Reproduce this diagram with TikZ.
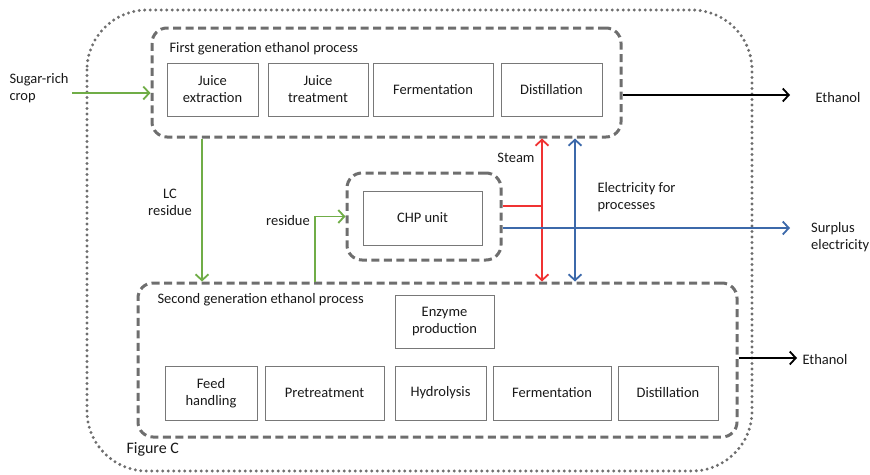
\documentclass[tikz,border=0pt]{standalone}
\usepackage{fontspec}
\setmainfont{Carlito}
\usetikzlibrary{arrows.meta}
\definecolor{leaf}{RGB}{112,173,71}
\definecolor{steamred}{RGB}{240,50,50}
\definecolor{powerblue}{RGB}{60,105,170}
\definecolor{dashgray}{RGB}{110,110,110}
\definecolor{dotgray}{RGB}{110,110,110}
\definecolor{boxgray}{RGB}{120,120,120}
\definecolor{inkgray}{RGB}{25,25,25}

\begin{document}
\begin{tikzpicture}[x=1pt,y=-1pt,font=\fontsize{14.5}{17}\selectfont,text=inkgray,
  unit/.style={draw=boxgray,line width=1pt,minimum height=53pt,align=center,inner sep=2pt},
  group/.style={draw=dashgray,line width=3pt,dash pattern=on 8pt off 4.5pt,rounded corners=15pt},
  flow/.style={line width=1.8pt,-{Straight Barb[length=6pt,width=13pt]}},
  both/.style={line width=1.8pt,{Straight Barb[length=6pt,width=13pt]}-{Straight Barb[length=6pt,width=13pt]}}]
\useasboundingbox (0,0) rectangle (870,474);
% outer system boundary
\draw[dotgray,line width=3.3pt,line cap=round,dash pattern=on 0pt off 5.5pt,rounded corners=60pt]
  (87,10) rectangle (752,471);

% first generation
\node[group,minimum width=469,minimum height=109] (fg) at (386.5,82.5) {};
\node[anchor=west] at (166,49) {First generation ethanol process};
\node[unit,minimum width=91] (je) at (212.5,89.5) {Juice\\extraction};
\node[unit,minimum width=100] (jt) at (318,89.5) {Juice\\treatment};
\node[unit,minimum width=120] (fe1) at (433,89.5) {Fermentation};
\node[unit,minimum width=101] (di1) at (551.5,89.5) {Distillation};

% CHP
\node[group,minimum width=154,minimum height=87] (chp) at (424,216.5) {};
\node[unit,minimum width=119,minimum height=54] (chpu) at (422.5,218) {CHP unit};

% second generation
\node[group,minimum width=599,minimum height=154] (sg) at (437.5,360) {};
\node[anchor=west] at (154,300) {Second generation ethanol process};
\node[unit,minimum width=99] (enz) at (444.5,321.5) {Enzyme\\production};
\node[unit,minimum width=92,minimum height=54] (fh) at (211,393) {Feed\\handling};
\node[unit,minimum width=119,minimum height=54] (pt) at (324.5,393) {Pretreatment};
\node[unit,minimum width=91,minimum height=54] (hy) at (440.5,393) {Hydrolysis};
\node[unit,minimum width=118,minimum height=54] (fe2) at (552,393) {Fermentation};
\node[unit,minimum width=100,minimum height=54] (di2) at (668,393) {Distillation};

% labels
\node[anchor=west,align=left] (crop) at (6,88) {Sugar-rich\\crop};
\node[align=center] (lcl) at (170,202) {LC\\residue};
\node (resl) at (288,221) {residue};
\node (steaml) at (516,158) {Steam};
\node[anchor=west,align=left] (elecl) at (594,197) {Electricity for\\processes};
\node[anchor=west] (eth1l) at (812,98) {Ethanol};
\node[anchor=west,align=left,inner sep=1pt] (surpl) at (810,237) {Surplus\\electricity};
\node[anchor=west] (eth2l) at (799,360) {Ethanol};
\node[anchor=west,font=\fontsize{16}{18}\selectfont] (figl) at (123,449) {Figure C};

% connectors
\coordinate (cropin) at (72,93);
\coordinate (lc) at (202,0);
\coordinate (res) at (315,0);
\coordinate (st) at (542,206);
\coordinate (el) at (575,0);
\coordinate (eth1) at (790,95);
\coordinate (surp) at (790,228);
\coordinate (eth2) at (797,358);
\draw[flow,leaf] (cropin) -- (cropin -| fg.west);
\draw[flow,leaf] (fg.south -| lc) -- (sg.north -| lc);
\draw[flow,leaf] (sg.north -| res) |- (chp.west);
\draw[flow,black] (fg.east |- eth1) -- (eth1);
\draw[both,steamred] (fg.south -| st) -- (sg.north -| st);
\draw[steamred,line width=1.8pt] (chp.east |- st) -- (st);
\draw[both,powerblue] (fg.south -| el) -- (sg.north -| el);
\draw[flow,powerblue] (chp.east |- surp) -- (surp);
\draw[flow,black] (sg.east |- eth2) -- (eth2);
\end{tikzpicture}
\end{document}
